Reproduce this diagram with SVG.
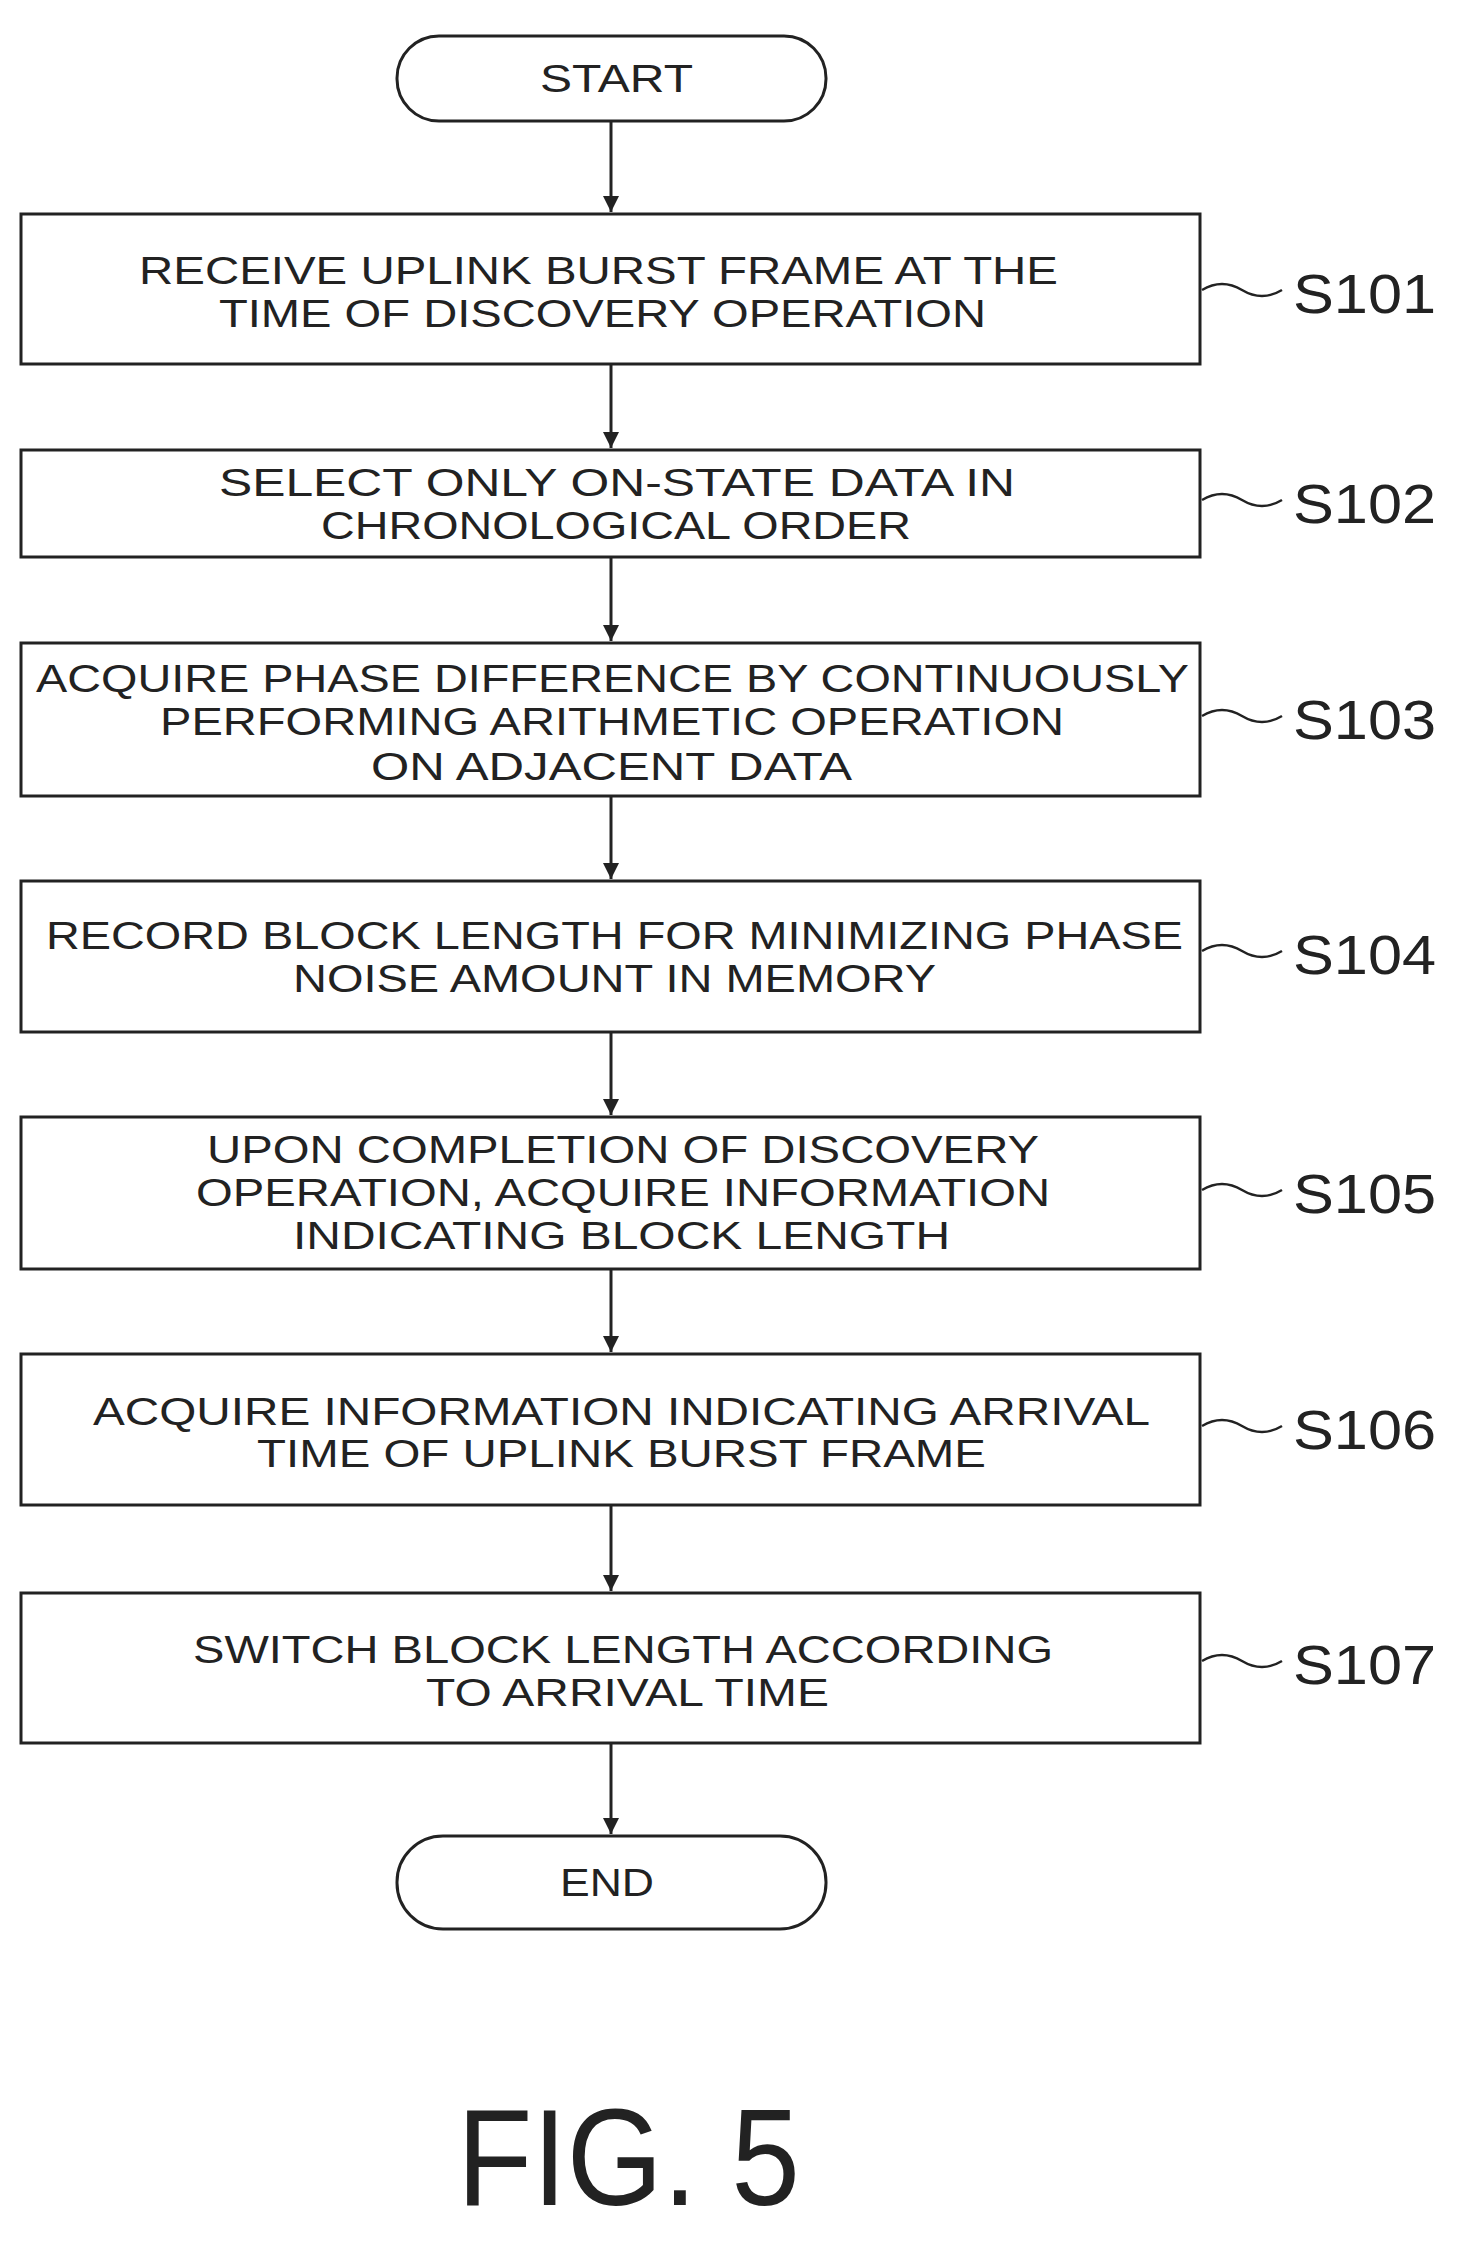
<svg xmlns="http://www.w3.org/2000/svg" width="1463" height="2242" viewBox="0 0 1463 2242">
<style>
.b{fill:#fff;stroke:#222;stroke-width:3}
.t{font-family:"Liberation Sans",Arial,sans-serif;font-size:38px;fill:#222}
.l{font-family:"Liberation Sans",Arial,sans-serif;font-size:56px;fill:#222}
.c{fill:none;stroke:#222;stroke-width:3}
</style>
<defs><marker id="a" markerWidth="16" markerHeight="22" refX="16" refY="8" orient="auto" markerUnits="userSpaceOnUse" viewBox="0 0 16 16"><path d="M0,0 L16,8 L0,16 z" fill="#222"/></marker></defs>
<rect width="1463" height="2242" fill="#fff"/>
<g id="connectors">
<path class="c" marker-end="url(#a)" d="M611,121 V212"/>
<path class="c" marker-end="url(#a)" d="M611,364 V448"/>
<path class="c" marker-end="url(#a)" d="M611,557 V641"/>
<path class="c" marker-end="url(#a)" d="M611,796 V879"/>
<path class="c" marker-end="url(#a)" d="M611,1032 V1115"/>
<path class="c" marker-end="url(#a)" d="M611,1269 V1352"/>
<path class="c" marker-end="url(#a)" d="M611,1505 V1591"/>
<path class="c" marker-end="url(#a)" d="M611,1743 V1834"/>
<g stroke="#222" stroke-width="2.5" fill="none">
<path d="M1202,290 q20,-12 40,0 t40,0"/>
<path d="M1202,500 q20,-12 40,0 t40,0"/>
<path d="M1202,716 q20,-12 40,0 t40,0"/>
<path d="M1202,951 q20,-12 40,0 t40,0"/>
<path d="M1202,1190 q20,-12 40,0 t40,0"/>
<path d="M1202,1426 q20,-12 40,0 t40,0"/>
<path d="M1202,1661 q20,-12 40,0 t40,0"/>
</g>
</g>
<g id="start"><rect class="b" x="397" y="36" width="429" height="85" rx="42"/><text class="t" x="540" y="92" textLength="153" lengthAdjust="spacingAndGlyphs">START</text></g>
<g id="s101"><rect class="b" x="21" y="214" width="1179" height="150"/><text class="t" x="139" y="284" textLength="919" lengthAdjust="spacingAndGlyphs">RECEIVE UPLINK BURST FRAME AT THE</text><text class="t" x="219" y="327" textLength="767" lengthAdjust="spacingAndGlyphs">TIME OF DISCOVERY OPERATION</text><text class="l" x="1293" y="313" textLength="143" lengthAdjust="spacingAndGlyphs">S101</text></g>
<g id="s102"><rect class="b" x="21" y="450" width="1179" height="107"/><text class="t" x="219" y="496" textLength="796" lengthAdjust="spacingAndGlyphs">SELECT ONLY ON-STATE DATA IN</text><text class="t" x="321" y="539" textLength="590" lengthAdjust="spacingAndGlyphs">CHRONOLOGICAL ORDER</text><text class="l" x="1293" y="523" textLength="143" lengthAdjust="spacingAndGlyphs">S102</text></g>
<g id="s103"><rect class="b" x="21" y="643" width="1179" height="153"/><text class="t" x="36" y="692" textLength="1153" lengthAdjust="spacingAndGlyphs">ACQUIRE PHASE DIFFERENCE BY CONTINUOUSLY</text><text class="t" x="160" y="735" textLength="904" lengthAdjust="spacingAndGlyphs">PERFORMING ARITHMETIC OPERATION</text><text class="t" x="371" y="780" textLength="481" lengthAdjust="spacingAndGlyphs">ON ADJACENT DATA</text><text class="l" x="1293" y="739" textLength="143" lengthAdjust="spacingAndGlyphs">S103</text></g>
<g id="s104"><rect class="b" x="21" y="881" width="1179" height="151"/><text class="t" x="46" y="949" textLength="1137" lengthAdjust="spacingAndGlyphs">RECORD BLOCK LENGTH FOR MINIMIZING PHASE</text><text class="t" x="293" y="992" textLength="643" lengthAdjust="spacingAndGlyphs">NOISE AMOUNT IN MEMORY</text><text class="l" x="1293" y="974" textLength="143" lengthAdjust="spacingAndGlyphs">S104</text></g>
<g id="s105"><rect class="b" x="21" y="1117" width="1179" height="152"/><text class="t" x="207" y="1163" textLength="832" lengthAdjust="spacingAndGlyphs">UPON COMPLETION OF DISCOVERY</text><text class="t" x="196" y="1206" textLength="854" lengthAdjust="spacingAndGlyphs">OPERATION, ACQUIRE INFORMATION</text><text class="t" x="293" y="1249" textLength="657" lengthAdjust="spacingAndGlyphs">INDICATING BLOCK LENGTH</text><text class="l" x="1293" y="1213" textLength="143" lengthAdjust="spacingAndGlyphs">S105</text></g>
<g id="s106"><rect class="b" x="21" y="1354" width="1179" height="151"/><text class="t" x="93" y="1425" textLength="1057" lengthAdjust="spacingAndGlyphs">ACQUIRE INFORMATION INDICATING ARRIVAL</text><text class="t" x="257" y="1467" textLength="729" lengthAdjust="spacingAndGlyphs">TIME OF UPLINK BURST FRAME</text><text class="l" x="1293" y="1449" textLength="143" lengthAdjust="spacingAndGlyphs">S106</text></g>
<g id="s107"><rect class="b" x="21" y="1593" width="1179" height="150"/><text class="t" x="193" y="1663" textLength="860" lengthAdjust="spacingAndGlyphs">SWITCH BLOCK LENGTH ACCORDING</text><text class="t" x="426" y="1706" textLength="403" lengthAdjust="spacingAndGlyphs">TO ARRIVAL TIME</text><text class="l" x="1293" y="1684" textLength="143" lengthAdjust="spacingAndGlyphs">S107</text></g>
<g id="end"><rect class="b" x="397" y="1836" width="429" height="93" rx="46"/><text class="t" x="560" y="1896" textLength="94" lengthAdjust="spacingAndGlyphs">END</text></g>
<text x="457" y="2205" font-family="Liberation Sans,Arial,sans-serif" font-size="138" fill="#222" textLength="343" lengthAdjust="spacingAndGlyphs">FIG. 5</text>
</svg>
